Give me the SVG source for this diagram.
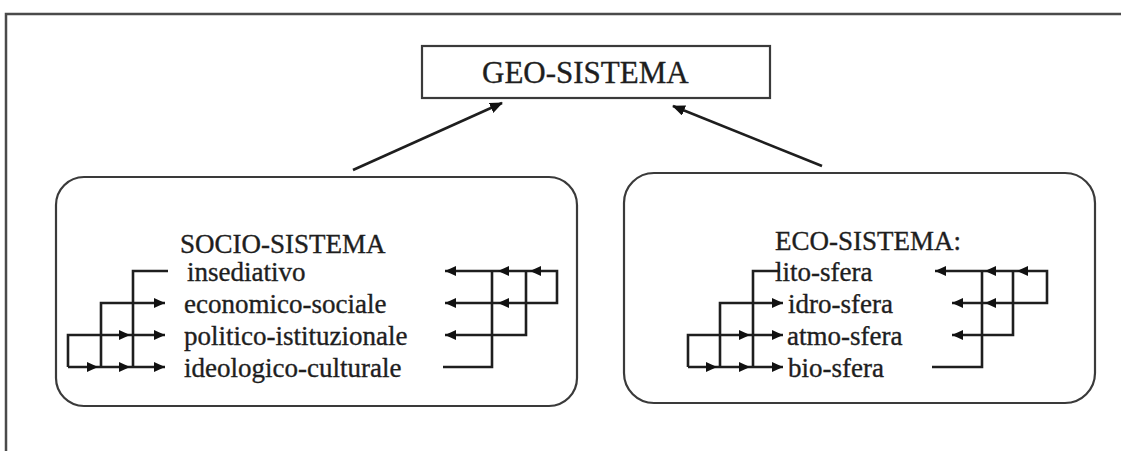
<svg xmlns="http://www.w3.org/2000/svg" xmlns:xlink="http://www.w3.org/1999/xlink" width="1121" height="451" viewBox="0 0 1121 451">
  <style>
    .frame { fill: none; stroke: #4a4a4a; stroke-width: 2.5; }
    .box { fill: #ffffff; stroke: #3a3a3a; stroke-width: 2.2; }
    .label { font-family: "Liberation Serif", "Times New Roman", serif; font-size: 27px; fill: #1e1e1e; stroke: #1e1e1e; stroke-width: 0.35; }
    .title { font-family: "Liberation Serif", "Times New Roman", serif; font-size: 31px; fill: #1e1e1e; stroke: #1e1e1e; stroke-width: 0.35; }
    .wire { fill: none; stroke: #1e1e1e; stroke-width: 2.6; stroke-linejoin: miter; }
    .link { fill: none; stroke: #1e1e1e; stroke-width: 2.6; }
    .head { fill: #111111; }
  </style>
  <defs>
    <marker id="bigHead" viewBox="0 0 13 11" refX="12" refY="5.5" markerWidth="13" markerHeight="11" markerUnits="userSpaceOnUse" orient="auto">
      <path d="M0,0 L13,5.5 L0,11 Z" class="head"/>
    </marker>
    <!-- small filled heads, tip at the origin -->
    <path id="hr" d="M0,0 L-11,-5 L-11,5 Z" class="head"/>
    <path id="hl" d="M0,0 L11,-5 L11,5 Z" class="head"/>
  </defs>

  <rect width="1121" height="451" fill="#ffffff"/>

  <!-- outer frame (top and left edges) -->
  <path class="frame" d="M6,451 V14 H1121"/>

  <g id="geo-sistema">
    <rect class="box" x="422" y="46" width="348" height="52"/>
    <text class="title" x="482" y="83">GEO-SISTEMA</text>
  </g>

  <g id="socio-sistema">
    <rect class="box" x="56" y="177" width="521" height="229" rx="28" ry="28"/>
    <text class="label" x="180" y="253">SOCIO-SISTEMA</text>
    <text class="label" x="187" y="281">insediativo</text>
    <text class="label" x="184" y="313">economico-sociale</text>
    <text class="label" x="184" y="345">politico-istituzionale</text>
    <text class="label" x="184" y="377">ideologico-culturale</text>
  </g>

  <g id="eco-sistema">
    <rect class="box" x="624" y="173" width="471" height="230" rx="30" ry="30"/>
    <text class="label" x="775" y="250">ECO-SISTEMA:</text>
    <text class="label" x="775" y="281">lito-sfera</text>
    <text class="label" x="788" y="313">idro-sfera</text>
    <text class="label" x="787" y="345">atmo-sfera</text>
    <text class="label" x="788" y="377">bio-sfera</text>
  </g>

  <g id="connectors">
    <!-- subsystems feeding the geo-system -->
    <line class="link" x1="353" y1="170" x2="502" y2="103" marker-end="url(#bigHead)"/>
    <line class="link" x1="822" y1="166" x2="673" y2="106" marker-end="url(#bigHead)"/>

    <!-- socio-sistema: downward links, left side -->
    <path class="wire" d="M133,367 V271 H168"/>
    <path class="wire" d="M101,367 V303 H165"/>
    <path class="wire" d="M68,367 V335 H165"/>
    <path class="wire" d="M68,367 H165"/>
    <use xlink:href="#hr" x="165" y="303"/>
    <use xlink:href="#hr" x="130" y="335"/>
    <use xlink:href="#hr" x="165" y="335"/>
    <use xlink:href="#hr" x="98" y="367"/>
    <use xlink:href="#hr" x="130" y="367"/>
    <use xlink:href="#hr" x="165" y="367"/>

    <!-- socio-sistema: upward links, right side -->
    <path class="wire" d="M443,367 H492 V271"/>
    <path class="wire" d="M445,271 H557 V303 H445"/>
    <path class="wire" d="M526,271 V335 H445"/>
    <use xlink:href="#hl" x="445" y="271"/>
    <use xlink:href="#hl" x="498" y="271"/>
    <use xlink:href="#hl" x="530" y="271"/>
    <use xlink:href="#hl" x="445" y="303"/>
    <use xlink:href="#hl" x="498" y="303"/>
    <use xlink:href="#hl" x="445" y="335"/>

    <!-- eco-sistema: downward links, left side -->
    <path class="wire" d="M753,367 V271 H780"/>
    <path class="wire" d="M720,367 V303 H783"/>
    <path class="wire" d="M688,367 V335 H783"/>
    <path class="wire" d="M688,367 H783"/>
    <use xlink:href="#hr" x="783" y="303"/>
    <use xlink:href="#hr" x="750" y="335"/>
    <use xlink:href="#hr" x="783" y="335"/>
    <use xlink:href="#hr" x="717" y="367"/>
    <use xlink:href="#hr" x="750" y="367"/>
    <use xlink:href="#hr" x="783" y="367"/>

    <!-- eco-sistema: upward links, right side -->
    <path class="wire" d="M932,367 H982 V271"/>
    <path class="wire" d="M935,271 H1047 V303 H952"/>
    <path class="wire" d="M1013,271 V335 H952"/>
    <use xlink:href="#hl" x="935" y="271"/>
    <use xlink:href="#hl" x="985" y="271"/>
    <use xlink:href="#hl" x="1017" y="271"/>
    <use xlink:href="#hl" x="952" y="303"/>
    <use xlink:href="#hl" x="985" y="303"/>
    <use xlink:href="#hl" x="952" y="335"/>
  </g>
</svg>
